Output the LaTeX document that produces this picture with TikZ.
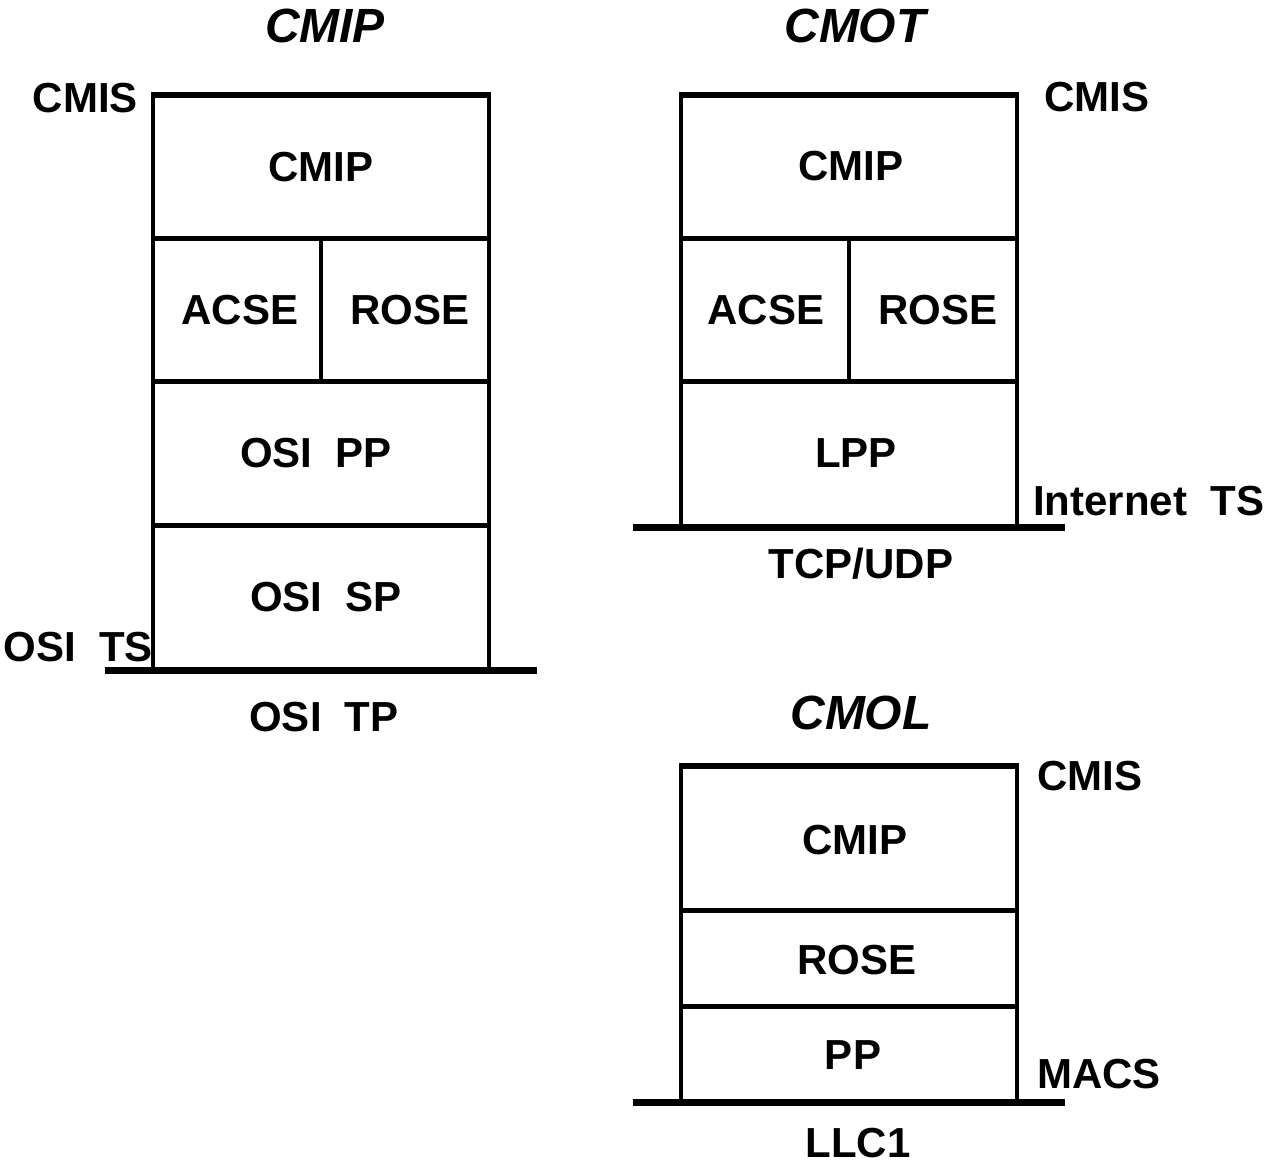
\documentclass[tikz,border=0pt]{standalone}
\usepackage{fontspec}
\setmainfont{Liberation Sans}
\begin{document}
\begin{tikzpicture}[x=1pt,y=-1pt,
  lbl/.style={inner sep=0pt,font=\fontsize{42}{50}\selectfont\bfseries},
  ttl/.style={inner sep=0pt,font=\fontsize{48}{57}\selectfont\bfseries\itshape},
  topline/.style={line width=6pt},
  divline/.style={line width=5pt},
  sideline/.style={line width=4pt},
  baseline/.style={line width=7pt}]
\useasboundingbox (0,0) rectangle (1267,1167);

% ---------- CMIP stack ----------
\coordinate (a1) at (153,95);  \coordinate (a2) at (489,95);
\coordinate (a3) at (153,670); \coordinate (a4) at (489,670);
\draw[sideline] (a1) -- (a3);
\draw[sideline] (a2) -- (a4);
\draw[topline] ([xshift=-2pt]a1) -- ([xshift=2pt]a2);
\coordinate (ad1l) at (151,238); \coordinate (ad1r) at (491,238);
\coordinate (ad2l) at (151,381); \coordinate (ad2r) at (491,381);
\coordinate (ad3l) at (151,525); \coordinate (ad3r) at (491,525);
\draw[divline] (ad1l) -- (ad1r);
\draw[divline] (ad2l) -- (ad2r);
\draw[divline] (ad3l) -- (ad3r);
\coordinate (am1) at (321,238); \coordinate (am2) at (321,381);
\draw[sideline] (am1) -- (am2);
\coordinate (ab1) at (105,670); \coordinate (ab2) at (537,670);
\draw[baseline] (ab1) -- (ab2);

\node[ttl] (t1) at (325,26) {CMIP};
\node[lbl,anchor=east] (a-cmis) at (138,98) {CMIS};
\node[lbl] (a-cmip) at (321,167) {CMIP};
\node[lbl] (a-acse) at (240,310) {ACSE};
\node[lbl] (a-rose) at (410,310) {ROSE};
\node[lbl] (a-pp) at (316,453) {OSI\ \ PP};
\node[lbl] (a-sp) at (326,597) {OSI\ \ SP};
\node[lbl,anchor=east] (a-ts) at (153,647) {OSI\ \ TS};
\node[lbl] (a-tp) at (324,717) {OSI\ \ TP};

% ---------- CMOT stack ----------
\coordinate (b1) at (681,95);  \coordinate (b2) at (1017,95);
\coordinate (b3) at (681,527); \coordinate (b4) at (1017,527);
\draw[sideline] (b1) -- (b3);
\draw[sideline] (b2) -- (b4);
\draw[topline] ([xshift=-2pt]b1) -- ([xshift=2pt]b2);
\coordinate (bd1l) at (679,238); \coordinate (bd1r) at (1019,238);
\coordinate (bd2l) at (679,381); \coordinate (bd2r) at (1019,381);
\draw[divline] (bd1l) -- (bd1r);
\draw[divline] (bd2l) -- (bd2r);
\coordinate (bm1) at (849,238); \coordinate (bm2) at (849,381);
\draw[sideline] (bm1) -- (bm2);
\coordinate (bb1) at (633,527); \coordinate (bb2) at (1065,527);
\draw[baseline] (bb1) -- (bb2);

\node[ttl] (t2) at (855,26) {CMOT};
\node[lbl,anchor=west] (b-cmis) at (1044,97) {CMIS};
\node[lbl] (b-cmip) at (851,166) {CMIP};
\node[lbl] (b-acse) at (766,310) {ACSE};
\node[lbl] (b-rose) at (938,310) {ROSE};
\node[lbl] (b-lpp) at (856,453) {LPP};
\node[lbl,anchor=west] (b-its) at (1033,501) {Internet\ \ TS};
\node[lbl] (b-tcp) at (861,564) {TCP/UDP};

% ---------- CMOL stack ----------
\coordinate (c1) at (681,766);  \coordinate (c2) at (1017,766);
\coordinate (c3) at (681,1102); \coordinate (c4) at (1017,1102);
\draw[sideline] (c1) -- (c3);
\draw[sideline] (c2) -- (c4);
\draw[topline] ([xshift=-2pt]c1) -- ([xshift=2pt]c2);
\coordinate (cd1l) at (679,910); \coordinate (cd1r) at (1019,910);
\coordinate (cd2l) at (679,1006); \coordinate (cd2r) at (1019,1006);
\draw[divline] (cd1l) -- (cd1r);
\draw[divline] (cd2l) -- (cd2r);
\coordinate (cb1) at (633,1102); \coordinate (cb2) at (1065,1102);
\draw[baseline] (cb1) -- (cb2);

\node[ttl] (t3) at (861,713) {CMOL};
\node[lbl,anchor=west] (c-cmis) at (1037,776) {CMIS};
\node[lbl] (c-cmip) at (855,840) {CMIP};
\node[lbl] (c-rose) at (857,960) {ROSE};
\node[lbl] (c-pp) at (853,1055) {PP};
\node[lbl,anchor=west] (c-macs) at (1037,1074) {MACS};
\node[lbl] (c-llc) at (858,1143) {LLC1};
\end{tikzpicture}
\end{document}
